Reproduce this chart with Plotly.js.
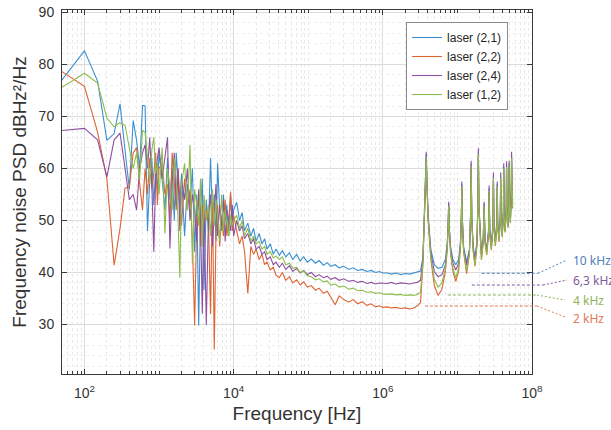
<!DOCTYPE html>
<html>
<head>
<meta charset="utf-8">
<script src="https://cdn.plot.ly/plotly-3.0.1.min.js"></script>
<style>
  html, body { margin: 0; padding: 0; background: #ffffff; }
  #chart { width: 611px; height: 430px; }
</style>
</head>
<body>
<div id="chart"></div>
<script>
// Shared frequency axis (Hz)
const freqHz = [
  50,100,150,200,250,300,350,400,450,500,550,600,650,700,750,800,850,900,950,1000,
  1100,1200,1300,1400,1500,1600,1700,1800,1900,2000,2200,2400,2600,2800,3000,3200,3400,3600,3800,4000,
  4300,4600,4900,5200,5500,5800,6100,6500,6900,7300,7700,8100,8600,9100,9600,10000,
  11000,12000,13000,14000,15500,17000,18500,20000,22000,24000,26000,28000,31000,34000,37000,41000,45000,50000,
  56000,62000,70000,78000,87000,97000,110000,125000,140000,160000,180000,200000,230000,260000,300000,350000,
  400000,460000,530000,610000,700000,800000,900000,1000000,
  1.15e6,1.3e6,1.5e6,1.75e6,2.0e6,2.3e6,2.6e6,2.9e6,3.2e6,
  3.45e6,3.62e6,3.74e6,3.82e6,3.91e6,4.05e6,4.4e6,4.9e6,5.5e6,
  6.2e6,6.9e6,7.3e6,7.5e6,7.64e6,7.8e6,8.1e6,8.7e6,9.5e6,
  10.4e6,11.0e6,11.3e6,11.46e6,11.65e6,12.1e6,13.3e6,
  14.5e6,15.0e6,15.28e6,15.6e6,16.3e6,17.2e6,
  18.3e6,18.85e6,19.1e6,19.4e6,20.3e6,21.0e6,
  22.2e6,22.8e6,23.5e6,24.7e6,
  26.1e6,26.6e6,27.2e6,28.5e6,
  30.0e6,30.4e6,30.9e6,32.3e6,
  33.8e6,34.2e6,34.7e6,36.1e6,
  37.6e6,38.0e6,38.5e6,39.9e6,
  41.4e6,41.8e6,42.3e6,43.7e6,
  45.2e6,45.6e6,46.1e6,47.5e6,
  49.0e6,49.4e6,49.9e6,51.3e6,
  52.8e6,53.2e6,53.7e6,55.0e6
];

// laser (2,1)
const psdLaser21 = [
  77.0,82.6,76.8,65.4,66.7,72.4,63.5,56.0,69.2,65.4,60.0,72.1,72.0,48.0,58.0,62.0,53.0,60.0,56.0,63.0,
  58,52,62,54,60,50,63,56,52,59,47,57,53,60,44,55,29.8,52,58,36.6,
  54,48,62,50,55,46,61,52,48,55,50,53,47,55,49,52,
  53.5,50,51.5,48,49.5,47,48.5,46,47.5,45.5,46.5,44.5,45.5,43.5,44.5,43.3,44.2,43,
  43.8,42.5,43.5,42.2,43,42,42.6,41.8,42.3,41.4,41.9,41.2,41.5,40.9,41.2,40.6,
  40.9,40.4,40.6,40.2,40.4,40.0,40.2,39.9,
  39.9,39.7,39.9,39.6,39.8,39.7,39.9,40.0,40.3,
  43,51.5,57.8,62.8,57,51,44.5,41.5,40.8,
  41,42.5,45.5,49,53.2,48.5,45,42.5,41.5,
  42.5,46,51,57,50.5,45,42,
  44.5,51,61,50.5,45,42.8,
  46,54,63.3,53,46,43.6,
  46.5,53.2,46.5,44.3,
  48,56.2,48,45,
  49.5,58.6,49.2,45.8,
  50,57,49.6,46.5,
  51,58.6,50.6,47.3,
  52,60.4,51.6,48.1,
  53,60.8,52.6,49,
  54,61,53.6,50,
  55.5,62.5,55,53
];

// laser (2,2)
const psdLaser22 = [
  78.6,75.8,67,58,41.4,48.5,56.2,56.5,63,64,57,52,60,55,62,56,59,63,53,60,
  61,55,57,50,63,58,52,60,55,49,58,52,56,46,29.8,50,55,45,53,48,
  52,50,32,55,25.2,48,53,45,51,47,54,47,50,55.5,48,51,
  48,45.5,47,44,36,45,43.5,44.5,42.5,43.5,41.5,42,40.5,41,39.5,39,40,38.5,
  39.2,38,38.6,37.6,38.2,37.2,37.5,36.6,37,36,36.4,35.2,33.8,35.5,34.8,34.3,
  34.8,34,34.4,33.7,34,33.4,33.6,33.3,
  33.4,33.2,33.3,33.1,33.2,33,33.2,33.6,34.2,
  41.5,50.8,57,61.5,56.3,50,42.6,37.5,35.6,
  36.8,40.2,44.3,48.3,52.5,47.8,43.7,40.2,38.3,
  40.3,45,50.3,56.2,49.8,44,39.8,
  43.6,50.3,60.2,49.8,44,41.2,
  45.2,53.5,62.5,52.5,45,42.4,
  45.8,52.5,45.6,43.4,
  47.2,55.5,47.1,44.3,
  48.8,57.9,48.5,45.1,
  49.3,56.3,48.9,45.9,
  50.3,57.8,49.9,46.8,
  51.3,59.6,50.9,47.7,
  52.3,60,51.9,48.6,
  53.3,60.2,52.9,49.5,
  54.8,61.6,54.3,52.3
];

// laser (2,4)
const psdLaser24 = [
  67.3,67.7,65.5,58.4,65.5,66.8,60,54,55,52,60,63,64.5,60,66,57,44,58,62,64,
  58,62,66,44.6,57,63,53,60,48,58,54,60,50,55,52,46,56,50,32.1,54,
  29.9,51,55,45,52,57,47,53,49,54,46,52,50,48,53,47,
  50,48,49,46.5,47.5,45.5,46.5,44.5,45,43.5,44,42.5,43,41.5,42,41,41.8,40.6,
  41.3,40.2,40.8,39.9,40.4,39.6,40,39.2,39.6,39,39.3,38.7,39,38.5,38.8,38.3,
  38.5,38.1,38.3,37.9,38.1,37.8,38,37.9,
  37.9,38.1,37.8,38,37.9,37.8,38,38.1,38.5,
  42.5,51.3,58,63.2,57.3,50.8,43.8,40.2,39.2,
  39.6,41.5,45,48.8,53.6,48.3,44.5,41.8,40.5,
  41.8,45.6,50.8,57.5,50.3,44.6,41.4,
  44.2,50.8,61.5,50.3,44.6,42.4,
  45.8,54,63.9,53,45.7,43.3,
  46.3,53.6,46.2,44.1,
  47.8,56.7,47.7,44.9,
  49.3,59.2,49,45.7,
  49.8,57.5,49.4,46.4,
  50.8,59.2,50.4,47.2,
  51.8,61,51.4,48,
  52.8,61.4,52.4,48.9,
  53.8,61.5,53.4,49.9,
  55.3,63.2,54.8,53.2
];

// laser (1,2)
const psdLaser12 = [
  75.6,78.3,76.4,69.7,68,68.8,68.3,64,60,63,58,67.3,67,62,57,63.5,66,59,61,55,
  64,47.5,60,56,52,62,58,50,39,57,61,52,64.5,41.7,56,53,49,58,45,55,
  50,53,47,56,49,54,51,46,55,48,52,50,47,51,49,50,
  51,48.5,50,47,48.5,46,47,45.5,46,44.5,45,43.5,44,42.8,43.2,42.5,43,41.5,
  41.8,40.8,41,40,40.3,39.4,39.2,38.6,38.8,38.2,38.4,37.6,37.8,37.2,37.4,36.8,
  37,36.5,36.6,36.2,36.3,36,36.1,35.9,
  35.8,35.9,35.7,35.8,35.6,35.7,35.6,35.8,36.2,
  42,51,57.3,62.2,56.6,50.3,43,38.7,37.2,
  38,40.8,44.6,48.5,52.8,48,44,40.8,39,
  40.8,45.2,50.5,56.6,50,44.2,40.2,
  43.8,50.5,60.5,50,44.2,41.4,
  45.4,53.7,62.8,52.7,45.2,42.5,
  46,52.8,45.8,43.5,
  47.4,55.8,47.3,44.4,
  49,58.2,48.6,45.2,
  49.4,56.6,49,46,
  50.4,58.2,50,46.9,
  51.4,60,51,47.8,
  52.4,60.3,52,48.7,
  53.4,60.5,53,49.6,
  55,62,54.4,52.5
];

const seriesNames = ['laser (2,1)', 'laser (2,2)', 'laser (2,4)', 'laser (1,2)'];
const seriesValues = [psdLaser21, psdLaser22, psdLaser24, psdLaser12];
const seriesColors = ['#3a8fd0', '#dd6433', '#9050a0', '#8cbc4c'];

const xTickVals = [1e2, 1e4, 1e6, 1e8];
const xTickText = ['10<sup>2</sup>', '10<sup>4</sup>', '10<sup>6</sup>', '10<sup>8</sup>'];

const noiseLabels = ['10 kHz', '6,3 kHz', '4 kHz', '2 kHz'];
const noiseLabelColors = ['#4f80b8', '#7f5a9c', '#8db45a', '#e07a58'];

// minor tick positions on the log axis (style only)
const minorX = [];
for (let e = 1; e < 8; e++) {
  for (let k = 1; k <= 9; k++) {
    const v = k * Math.pow(10, e);
    if (k === 1 && e % 2 === 0) continue;
    if (v >= 50) minorX.push(v);
  }
}

const traces = seriesValues.map((vals, i) => ({
  type: 'scatter',
  mode: 'lines',
  x: freqHz,
  y: vals,
  name: seriesNames[i],
  line: { color: seriesColors[i], width: 1.1 }
}));

const axisColor = '#3a3a3a';
const font = 'Liberation Sans, Arial, sans-serif';

// leader lines (paper coordinates)
const leader = [
  { h: [0.893, 1.0128, 0.2766], d: [1.0745, 0.3132] },
  { h: [0.872, 1.0234, 0.2445], d: [1.0745, 0.2582] },
  { h: [0.821, 1.0106, 0.2170], d: [1.0702, 0.2033] },
  { h: [0.772, 1.0106, 0.1868], d: [1.0702, 0.1566] }
];
const labelY = [0.3113, 0.2563, 0.2014, 0.1511];

const shapes = [];
const annotations = [];
leader.forEach((L, i) => {
  const c = noiseLabelColors[i];
  shapes.push({ type: 'line', xref: 'paper', yref: 'paper', x0: L.h[0], x1: L.h[1], y0: L.h[2], y1: L.h[2],
    line: { color: c, width: 1, dash: '3px,2px' } });
  shapes.push({ type: 'line', xref: 'paper', yref: 'paper', x0: L.h[1], x1: L.d[0], y0: L.h[2], y1: L.d[1],
    line: { color: c, width: 1, dash: '2px,2px' } });
  annotations.push({ xref: 'paper', yref: 'paper', x: 1.083, y: labelY[i], xanchor: 'left', yanchor: 'middle',
    text: noiseLabels[i], showarrow: false, font: { family: 'Noto Sans, sans-serif', size: 12, color: c } });
});

const layout = {
  width: 611,
  height: 430,
  margin: { l: 62, r: 79, t: 10, b: 56 },
  paper_bgcolor: '#ffffff',
  plot_bgcolor: '#ffffff',
  showlegend: true,
  xaxis: {
    type: 'log',
    range: [Math.log10(50), 8],
    tickmode: 'array',
    tickvals: xTickVals,
    ticktext: xTickText,
    ticks: 'inside',
    ticklen: 5,
    tickcolor: axisColor,
    showline: true,
    linecolor: axisColor,
    linewidth: 1,
    mirror: 'ticks',
    showgrid: true,
    gridcolor: '#dcdcdc',
    gridwidth: 1,
    zeroline: false,
    ticklabelstandoff: 6,
    tickfont: { family: font, size: 14, color: '#333333' },
    minor: {
      tickmode: 'array',
      tickvals: minorX,
      ticks: 'inside',
      ticklen: 3,
      tickcolor: axisColor,
      showgrid: true,
      gridcolor: '#e8e8e8',
      griddash: 'dot',
      gridwidth: 1
    },
    title: { text: 'Frequency [Hz]', font: { family: font, size: 19, color: '#333333' }, standoff: 6 }
  },
  yaxis: {
    range: [20.5, 90.45],
    tick0: 0,
    dtick: 10,
    ticks: 'inside',
    ticklen: 5,
    tickcolor: axisColor,
    showline: true,
    linecolor: axisColor,
    linewidth: 1,
    mirror: 'ticks',
    showgrid: true,
    gridcolor: '#dcdcdc',
    gridwidth: 1,
    zeroline: false,
    ticklabelstandoff: 4,
    tickfont: { family: font, size: 14, color: '#333333' },
    minor: {
      dtick: 2,
      ticks: '',
      showgrid: true,
      gridcolor: '#efefef',
      griddash: 'dot',
      gridwidth: 1
    },
    title: { text: 'Frequency noise PSD dBHz²/Hz', font: { family: font, size: 19, color: '#333333' }, standoff: 6 }
  },
  legend: {
    x: 0.732,
    y: 0.967,
    xanchor: 'left',
    yanchor: 'top',
    bgcolor: '#ffffff',
    bordercolor: '#8c8c8c',
    borderwidth: 1,
    font: { family: font, size: 12, color: '#262626' },
    tracegroupgap: 0
  },
  shapes: shapes,
  annotations: annotations
};

Plotly.newPlot('chart', traces, layout, { staticPlot: true, displayModeBar: false });
</script>
</body>
</html>
